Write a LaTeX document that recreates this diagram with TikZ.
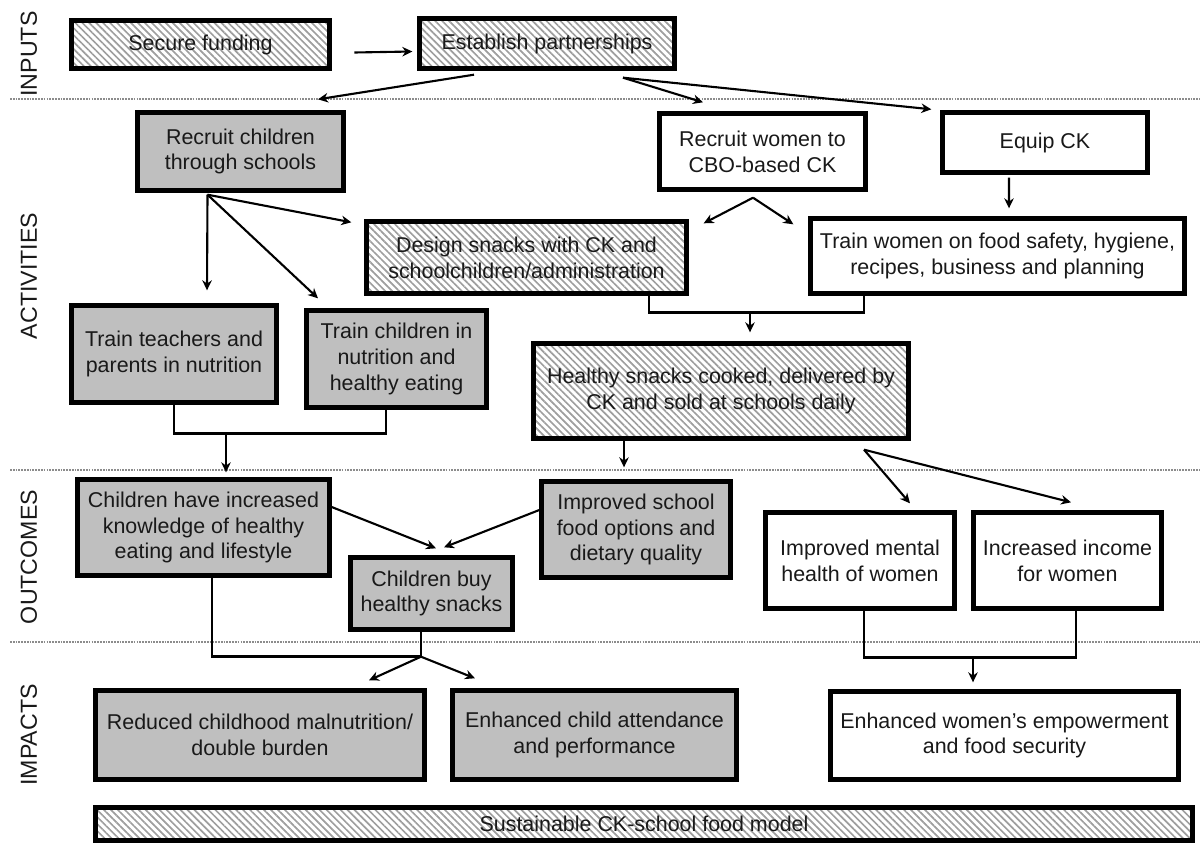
\documentclass[tikz,border=0pt]{standalone}
\usepackage{fontspec}
\setmainfont{Liberation Sans}
\usepackage{tikz}
\usetikzlibrary{arrows.meta, calc, patterns.meta}
\newcommand{\boxfont}{\fontsize{12.2}{14.7}\selectfont}
\newcommand{\stagefont}{\fontsize{13.2}{15}\selectfont}

\begin{document}
\begin{tikzpicture}[
      x=0.02cm, y=-0.02cm,
      box/.style={rectangle, draw=black, line width=2.5pt, align=center,
                  inner sep=2pt, font=\boxfont, text=black!90},
      shaded/.style={box, fill=black!25},
      hatched/.style={box, pattern={Lines[angle=-45, distance=2.8pt, line width=0.95pt]},
                      pattern color=black!38},
      plain/.style={box, fill=white},
      stage/.style={rotate=90, font=\stagefont, text=black!90},
      arr/.style={-{Stealth[length=2mm, width=1.9mm]}, line width=1.2pt},
      link/.style={line width=1.4pt},
      sep/.style={black!45, line width=0.8pt, dash pattern=on 1pt off 0.6pt}
    ]
    \useasboundingbox (0,0) rectangle (1200,845);

    % stage separators and labels
    \draw[sep] (10,99) -- (1200,99);
    \draw[sep] (10,470) -- (1200,470);
    \draw[sep] (10,642) -- (1200,642);
    \node[stage] (inputs) at (29,54) {INPUTS};
    \node[stage] (activities) at (29,276) {ACTIVITIES};
    \node[stage] (outcomes) at (29,557) {OUTCOMES};
    \node[stage] (impacts) at (29,735) {IMPACTS};

    % inputs
    \node[hatched, minimum width=5.16cm, minimum height=0.96cm] (fund) at (200.5,44.5) {Secure funding};
    \node[hatched, minimum width=5.1cm, minimum height=1cm] (partner) at (547,43.5) {Establish partnerships};

    % activities
    \node[shaded, minimum width=4.12cm, minimum height=1.56cm] (rchild) at (240.5,151.5) {Recruit children\\through schools};
    \node[plain, minimum width=4.12cm, minimum height=1.52cm] (rwomen) at (762.5,151.5) {Recruit women to\\CBO-based CK};
    \node[plain, minimum width=4.1cm, minimum height=1.2cm] (equip) at (1045,142.5) {Equip CK};
    \node[hatched, minimum width=6.4cm, minimum height=1.44cm] (design) at (526.5,257.5) {Design snacks with CK and\\schoolchildren/administration};
    \node[plain, minimum width=7.48cm, minimum height=1.5cm] (trainw) at (997.5,256) {Train women on food safety, hygiene,\\recipes, business and planning};
    \node[shaded, minimum width=4.1cm, minimum height=1.94cm] (trainteach) at (174,354) {Train teachers and\\parents in nutrition};
    \node[shaded, minimum width=3.6cm, minimum height=1.94cm] (trainchild) at (396.5,359) {Train children in\\nutrition and\\healthy eating};
    \node[hatched, minimum width=7.5cm, minimum height=1.9cm] (snacks) at (721,391) {Healthy snacks cooked, delivered by\\CK and sold at schools daily};

    % outcomes
    \node[shaded, minimum width=5.04cm, minimum height=1.92cm] (knowledge) at (203.5,527.5) {Children have increased\\knowledge of healthy\\eating and lifestyle};
    \node[shaded, minimum width=3.78cm, minimum height=1.92cm] (options) at (636,529.5) {Improved school\\food options and\\dietary quality};
    \node[shaded, minimum width=3.24cm, minimum height=1.44cm] (buy) at (431.5,593.5) {Children buy\\healthy snacks};
    \node[plain, minimum width=3.78cm, minimum height=1.92cm] (mental) at (860,560.5) {Improved mental\\health of women};
    \node[plain, minimum width=3.76cm, minimum height=1.92cm] (income) at (1067.5,560.5) {Increased income\\for women};

    % impacts
    \node[shaded, minimum width=6.58cm, minimum height=1.78cm] (malnut) at (260,735) {Reduced childhood malnutrition/\\double burden};
    \node[shaded, minimum width=5.68cm, minimum height=1.78cm] (attend) at (594.5,735) {Enhanced child attendance\\and performance};
    \node[plain, minimum width=6.96cm, minimum height=1.76cm] (empower) at (1004.5,735.5) {Enhanced women’s empowerment\\and food security};
    \node[hatched, minimum width=21.94cm, minimum height=0.66cm] (sustain) at (644,824) {Sustainable CK-school food model};

    % connectors
    \draw[arr] ($(fund.east)+(24,8)$) -- ($(partner.west)+(-5,8)$);
    \coordinate (pl) at ($(partner.south)+(-73,4)$);
    \coordinate (pr) at ($(partner.south)+(76,7)$);
    \draw[arr] (pl) -- ($(rchild.north)+(77.5,-11)$);
    \draw[arr] (pr) -- ($(rwomen.north)+(-59.5,-9)$);
    \draw[arr] (pr) -- ($(equip.north west)+(-9,-1)$);

    \coordinate (rc) at ($(rchild.south)+(-33,2)$);
    \draw[arr] (rc) -- ($(trainteach.north)+(33,-13)$);
    \draw[arr] (rc) -- ($(trainchild.north)+(-78.5,-10)$);
    \draw[arr] (rc) -- ($(design.north west)+(-13,3)$);
    \coordinate (rw) at ($(rwomen.south)+(-9.5,6)$);
    \draw[arr] (rw) -- ($(design.north east)+(15,4)$);
    \draw[arr] (rw) -- ($(trainw.north west)+(-15,8)$);
    \draw[arr] ($(equip.south)+(-36,3)$) -- ($(trainw.north)+(11.5,-8)$);

    \coordinate (ds) at ($(snacks.north)+(29,-29)$);
    \draw[link] ($(design.south)+(122.5,0)$) |- (ds) -| ($(trainw.south)+(-133.5,0)$);
    \draw[arr] (ds) -- ($(snacks.north)+(29,-9)$);
    \coordinate (tt) at ($(knowledge.north)+(22.5,-44)$);
    \draw[link] (trainteach.south) |- (tt) -| ($(trainchild.south)+(-10.5,0)$);
    \draw[arr] (tt) -- ($(knowledge.north)+(22.5,-5)$);

    \draw[arr] ($(snacks.south)+(-97,0)$) -- ($(options.north)+(-12,-12)$);
    \coordinate (sk) at ($(snacks.south)+(143,9)$);
    \draw[arr] (sk) -- ($(mental.north)+(50,-7)$);
    \draw[arr] (sk) -- ($(income.north)+(3.5,-8)$);
    \draw[arr] ($(knowledge.east)+(0,-20.5)$) -- ($(buy.north)+(4.5,-7)$);
    \draw[arr] ($(options.west)+(0,-19.5)$) -- ($(buy.north)+(12.5,-8)$);

    \coordinate (kb) at ($(buy.south)+(-10.5,25)$);
    \draw[link] ($(knowledge.south)+(8.5,0)$) |- (kb) -- ($(buy.south)+(-10.5,0)$);
    \draw[arr] (kb) -- ($(malnut.north)+(109,-8)$);
    \draw[arr] (kb) -- ($(attend.north)+(-119.5,-10)$);
    \coordinate (mi) at ($(empower.north)+(-31.5,-32)$);
    \draw[link] ($(mental.south)+(4,0)$) |- (mi) -| ($(income.south)+(8.5,0)$);
    \draw[arr] (mi) -- ($(empower.north)+(-31.5,-7)$);
  \end{tikzpicture}
\end{document}
